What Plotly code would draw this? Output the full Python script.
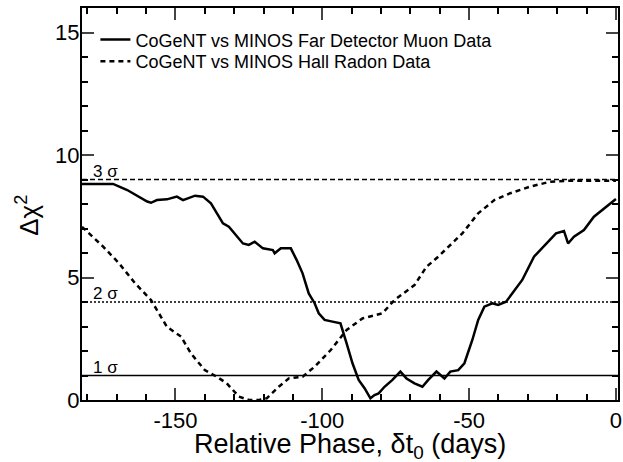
import plotly.graph_objects as go

# Muon (solid) curve: relative phase (days), delta chi^2
muon_x = [-181.8, -171.2, -166.4, -159.6, -158.3, -156.3, -152.9, -149.5, -147.4, -143.3,
          -140.6, -137.9, -133.8, -131.8, -127.0, -125.0, -123.0, -120.2, -116.8, -116.2,
          -114.1, -110.7, -108.7, -106.7, -104.6, -102.6, -101.2, -99.2, -96.5, -93.8,
          -91.7, -89.7, -87.6, -85.6, -83.6, -82.2, -80.8, -78.8, -76.1, -73.4,
          -71.3, -68.6, -65.9, -63.9, -61.1, -58.4, -56.4, -53.7, -51.6, -48.9,
          -46.9, -44.8, -42.1, -40.1, -37.4, -34.6, -31.9, -27.9, -23.8, -20.4,
          -17.7, -16.3, -14.3, -10.9, -7.5, -3.4, 0.0]
muon_y = [8.82, 8.82, 8.57, 8.10, 8.05, 8.16, 8.19, 8.30, 8.16, 8.34,
          8.30, 8.03, 7.21, 7.07, 6.39, 6.33, 6.46, 6.19, 6.12, 5.99,
          6.19, 6.19, 5.71, 5.17, 4.35, 3.95, 3.54, 3.27, 3.20, 3.13,
          2.31, 1.50, 0.82, 0.48, 0.07, 0.20, 0.27, 0.54, 0.82, 1.16,
          0.88, 0.68, 0.54, 0.82, 1.16, 0.88, 1.16, 1.22, 1.50, 2.45,
          3.27, 3.81, 3.95, 3.88, 4.01, 4.49, 4.90, 5.85, 6.39, 6.80,
          6.90, 6.39, 6.67, 6.94, 7.48, 7.89, 8.20]

# Radon (dashed) curve
radon_x = [-181.8, -174.6, -169.2, -163.7, -158.3, -152.9, -148.1, -144.7, -140.0, -135.9,
           -132.5, -128.4, -125.0, -121.6, -118.9, -114.8, -111.4, -106.7, -102.6, -97.1,
           -91.7, -86.3, -79.5, -75.4, -68.6, -64.5, -60.5, -56.4, -52.3, -46.9,
           -41.4, -36.0, -29.2, -22.4, -15.6, 0.0]
radon_y = [7.07, 6.26, 5.58, 4.76, 4.08, 2.99, 2.59, 1.90, 1.22, 0.95,
           0.68, 0.14, 0.0, 0.0, 0.07, 0.54, 0.88, 0.95, 1.36, 2.04,
           2.86, 3.33, 3.54, 4.08, 4.69, 5.44, 5.85, 6.33, 6.80, 7.62,
           8.16, 8.44, 8.71, 8.91, 8.95, 8.95]

sigma_levels = [1, 4, 9]
sigma_labels = ["1 σ", "2 σ", "3 σ"]
sigma_dash = ["solid", "2px,2px", "5px,3px"]
sigma_width = [1.5, 1.6, 1.6]

x_tickvals = [-150, -100, -50, 0]
x_ticktext = ["-150", "-100", "-50", "0"]
y_tickvals = [0, 5, 10, 15]
y_ticktext = ["0", "5", "10", "15"]

x_range = [-181.8, 0.7]
y_range = [0, 16]

FONT = "Liberation Sans, Arial, sans-serif"

fig = go.Figure()

for lvl, lab, dsh, w in zip(sigma_levels, sigma_labels, sigma_dash, sigma_width):
    fig.add_trace(go.Scatter(x=x_range, y=[lvl, lvl], mode="lines",
                             line=dict(color="black", width=w, dash=dsh),
                             showlegend=False, hoverinfo="skip"))
    fig.add_annotation(x=-178.6, y=lvl, text=lab, showarrow=False,
                       xanchor="left", yanchor="bottom", yshift=-3,
                       font=dict(family=FONT, size=17, color="black"))

fig.add_trace(go.Scatter(x=muon_x, y=muon_y, mode="lines",
                         name="CoGeNT vs MINOS Far Detector Muon Data",
                         line=dict(color="black", width=2.5), legend="legend"))
fig.add_trace(go.Scatter(x=radon_x, y=radon_y, mode="lines",
                         name="CoGeNT vs MINOS Hall Radon Data",
                         line=dict(color="black", width=2.5, dash="5px,4px"), legend="legend2"))

axis_common = dict(showline=True, linewidth=2, linecolor="black", mirror="allticks",
                   ticks="inside", tickwidth=2, ticklen=12, showgrid=False, zeroline=False,
                   automargin=False,
                   tickfont=dict(family=FONT, size=22, color="black"))

fig.update_xaxes(range=x_range, tickmode="array", tickvals=x_tickvals, ticktext=x_ticktext,
                 minor=dict(dtick=10, tick0=0, ticks="inside", ticklen=6, tickwidth=1.5,
                            tickcolor="black"),
                 **axis_common)
fig.update_yaxes(range=y_range, tickmode="array", tickvals=y_tickvals, ticktext=y_ticktext,
                 minor=dict(dtick=1, tick0=0, ticks="inside", ticklen=6, tickwidth=1.5,
                            tickcolor="black"),
                 ticklabelstandoff=-4,
                 **axis_common)

fig.add_annotation(xref="paper", yref="paper", x=0.5, y=-46 / 392, text="Relative Phase, δt<sub>0</sub> (days)",
                   showarrow=False, xanchor="center", yanchor="middle",
                   font=dict(family=FONT, size=27, color="black"))
fig.add_annotation(xref="paper", yref="paper", x=-54 / 536, y=0.47, text="Δχ<sup>2</sup>",
                   showarrow=False, xanchor="center", yanchor="middle", textangle=-90,
                   font=dict(family=FONT, size=26, color="black"))

legend_style = dict(x=0.025, xanchor="left", yanchor="top", bgcolor="rgba(0,0,0,0)",
                    font=dict(family=FONT, size=18, color="black"))

fig.update_layout(width=623, height=462,
                  margin=dict(l=82, r=5, t=8, b=62),
                  plot_bgcolor="white", paper_bgcolor="white",
                  legend=dict(y=0.966, **legend_style),
                  legend2=dict(y=0.9107, **legend_style),
                  showlegend=True)

fig.write_html("out.html", config={"displayModeBar": False},
               post_script="document.body.style.margin='0';document.body.style.overflow='hidden';")
